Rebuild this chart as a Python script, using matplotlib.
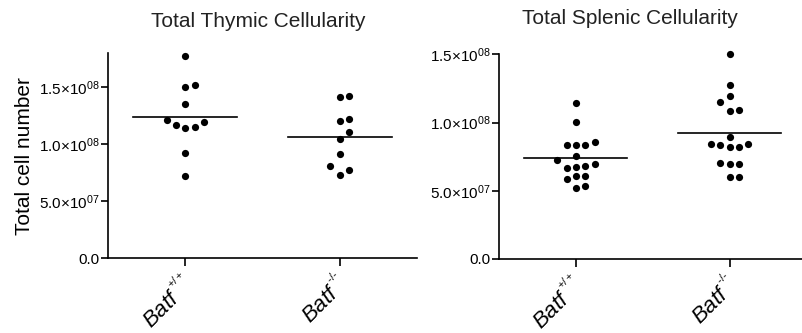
#!/usr/bin/env python3
"""Total thymic / splenic cellularity, Batf +/+ vs -/- dot plots."""

import matplotlib
matplotlib.use("Agg")
import matplotlib.pyplot as plt
import matplotlib.transforms as mtransforms
import numpy as np

plt.rcParams["font.family"] = ["Liberation Sans", "DejaVu Sans"]
plt.rcParams["mathtext.fontset"] = "custom"
plt.rcParams["mathtext.rm"] = "Liberation Sans"
plt.rcParams["mathtext.it"] = "Liberation Sans:italic"
plt.rcParams["mathtext.default"] = "regular"

GROUP_LABELS = [r"$\it{Batf}^{\,{}^{+/+}}$", "$\\it{Batf}^{\\,{}^{\u2010/\u2010}}$"]

THYMUS_WT = [1.777e8, 1.526e8, 1.503e8, 1.351e8, 1.211e8, 1.196e8,
             1.172e8, 1.149e8, 1.143e8, 9.26e7, 7.22e7]
THYMUS_KO = [1.421e8, 1.412e8, 1.222e8, 1.202e8, 1.108e8, 1.049e8,
             9.15e7, 8.10e7, 7.75e7, 7.31e7]

SPLEEN_WT = [1.146e8, 1.004e8, 8.57e7, 8.36e7, 8.36e7, 8.36e7, 7.55e7,
             7.26e7, 6.94e7, 6.84e7, 6.77e7, 6.69e7, 6.10e7, 6.08e7,
             5.86e7, 5.33e7, 5.23e7]
SPLEEN_KO = [1.502e8, 1.273e8, 1.192e8, 1.153e8, 1.093e8, 1.085e8,
             8.97e7, 8.43e7, 8.43e7, 8.33e7, 8.21e7, 8.18e7, 7.05e7,
             6.99e7, 6.99e7, 6.01e7, 5.99e7]

THYMUS_TICKS = [0, 5e7, 1e8, 1.5e8]
SPLEEN_TICKS = [0, 5e7, 1e8, 1.5e8]


def sci_label(v):
    if v == 0:
        return "0.0"
    exp = int(np.floor(np.log10(v)))
    return f"{v / 10 ** exp:.1f}×10$^{{{exp:02d}}}$"


def swarm_offsets(values, ax, step_px=9.3):
    # greedy beeswarm on fixed slots, lowest value first
    ppx = ax.bbox.width / (ax.get_xlim()[1] - ax.get_xlim()[0])
    ppy = ax.bbox.height / (ax.get_ylim()[1] - ax.get_ylim()[0])
    vals = np.asarray(values)
    offs = np.zeros(len(vals))
    placed = []
    for i in np.argsort(vals, kind="stable"):
        y = vals[i] * ppy
        for k in [0, 1, -1, 2, -2, 3, -3, 4, -4]:
            x = k * step_px
            if all(np.hypot(x - px, y - py) >= step_px * 0.999 for px, py in placed):
                break
        placed.append((x, y))
        offs[i] = x / ppx
    return offs


def draw_panel(ax, groups, ylim, yticks, xlim):
    ax.set_xlim(*xlim)
    ax.set_ylim(*ylim)
    for pos, vals in enumerate(groups, start=1):
        offs = swarm_offsets(vals, ax)
        ax.plot(pos + offs, vals, "o", color="black", markersize=5.2,
                markeredgewidth=0, clip_on=False, zorder=3)
        m = np.mean(vals)
        ax.plot([pos - 0.335, pos + 0.335], [m, m], color="black", lw=1.2, zorder=2)
    ax.set_yticks(yticks)
    ax.set_yticklabels([sci_label(v) for v in yticks], fontsize=11)
    ax.set_xticks([1, 2])
    ax.set_xticklabels([])
    # slanted group labels, placed by hand just below-left of each tick
    shift = mtransforms.ScaledTranslation(-5 / 100, -12 / 100, ax.figure.dpi_scale_trans)
    for pos, lab in enumerate(GROUP_LABELS, start=1):
        ax.text(pos, 0, lab, transform=ax.get_xaxis_transform() + shift,
                fontsize=16, rotation=45, ha="right", va="top",
                rotation_mode="anchor")
    for side in ("top", "right"):
        ax.spines[side].set_visible(False)
    for side in ("left", "bottom"):
        ax.spines[side].set_linewidth(1.2)
    ax.tick_params(axis="y", length=5, width=1.2, pad=1)
    ax.tick_params(axis="x", length=6, width=1.2)


fig = plt.figure(figsize=(8.02, 3.33), dpi=100)
ax1 = fig.add_axes([108 / 802, 74.7 / 333, 309 / 802, 205 / 333])
ax2 = fig.add_axes([499 / 802, 74 / 333, 303 / 802, 204.7 / 333])

draw_panel(ax1, [THYMUS_WT, THYMUS_KO], (0, 1.8e8), THYMUS_TICKS, (0.5, 2.5))
draw_panel(ax2, [SPLEEN_WT, SPLEEN_KO], (0, 1.5e8), SPLEEN_TICKS, (0.5, 2.47))

fig.text(25 / 802, 1 - 156 / 333, "Total cell number", rotation=90,
         ha="center", va="center", fontsize=15)
fig.text(258 / 802, 1 - 27 / 333, "Total Thymic Cellularity", ha="center",
         va="baseline", fontsize=15, color="#222222")
fig.text(630 / 802, 1 - 24 / 333, "Total Splenic Cellularity", ha="center",
         va="baseline", fontsize=15, color="#222222")

fig.savefig("out.png", dpi=100)
